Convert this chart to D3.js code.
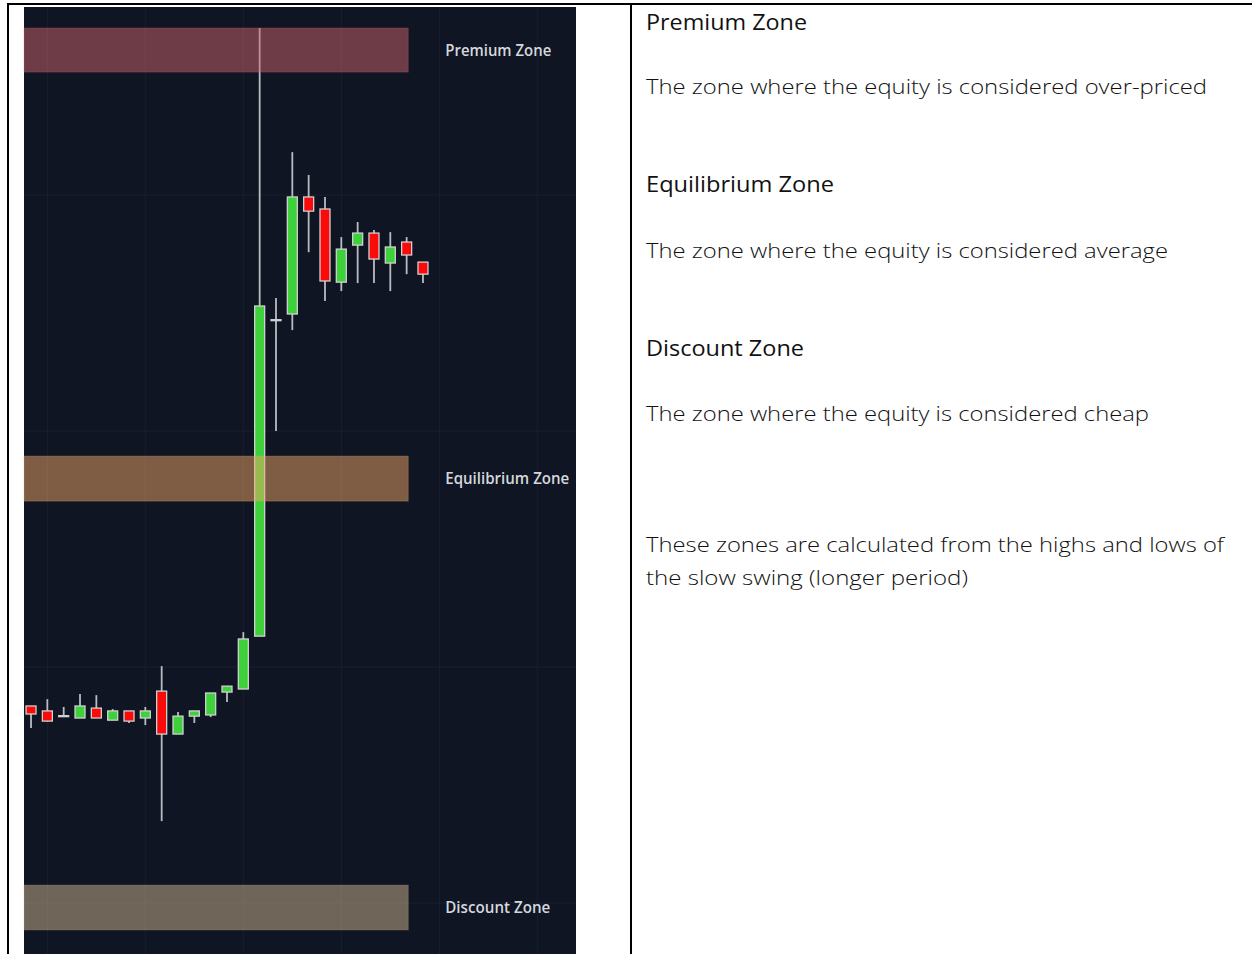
<!DOCTYPE html>
<html>
<head>
<meta charset="utf-8">
<script src="https://cdn.jsdelivr.net/npm/d3@7"></script>
<style>
    body { margin: 0; background: #ffffff; }
    svg { display: block; }
</style>
</head>
<body>
<svg id="page" width="1252" height="954"></svg>
<script>

// candle data (bar index = position in arrays)
let opens  = [108.35, 108.14, 107.94, 107.84, 108.26, 107.75, 108.14, 107.84, 108.98, 107.16, 107.92, 107.97, 108.94,
              109.07, 111.31, 124.72, 124.96, 129.92, 129.41, 126.31, 127.88, 128.39, 127.12, 128.01, 127.16];
let highs  = [108.35, 108.64, 108.31, 108.86, 108.81, 108.22, 108.14, 108.31, 110.04, 108.09, 108.14, 108.90, 109.19,
              111.48, 137.08, 125.64, 131.82, 130.85, 129.92, 128.22, 128.86, 128.52, 128.43, 128.22, 127.16];
let lows   = [107.42, 107.69, 107.88, 107.84, 107.84, 107.75, 107.63, 107.54, 103.47, 107.16, 107.63, 107.88, 108.52,
              109.07, 111.31, 120.00, 124.28, 127.58, 125.51, 125.93, 126.27, 126.27, 125.93, 126.65, 126.27];
let closes = [108.01, 107.71, 107.92, 108.35, 107.84, 108.14, 107.71, 108.14, 107.16, 107.92, 108.14, 108.90, 109.19,
              111.19, 125.30, 124.68, 129.92, 129.32, 126.36, 127.71, 128.39, 127.29, 127.80, 127.46, 126.65];

// zones
let zoneNames   = ["Premium Zone", "Equilibrium Zone", "Discount Zone"];
let zoneTops    = [137.08, 118.94, 100.76];
let zoneBottoms = [135.21, 117.03, 98.86];
let zoneColors  = ["rgb(205,99,106)", "rgb(239,165,102)", "rgb(207,181,142)"];
let zoneEndBar  = 23.1;

// grid
let gridPrices = [100, 110, 120, 130, 140];
let gridBars   = [1, 7, 13, 19, 25, 31];

// notes on the right
let noteHeads = ["Premium Zone", "Equilibrium Zone", "Discount Zone"];
let noteTexts = ["The zone where the equity is considered over-priced",
                 "The zone where the equity is considered average",
                 "The zone where the equity is considered cheap"];
let footLines = ["These zones are calculated from the highs and lows of",
                 "the slow swing (longer period)"];

// layout
let chart = { left: 24, top: 7, right: 576, bottom: 954 };
let page = d3.select("#page");

let x = d3.scaleLinear()
          .domain([-0.43, 33.37])
          .range([chart.left, chart.right]);
let y = d3.scaleLinear()
          .domain([97.84, 137.97])
          .range([chart.bottom, chart.top]);

let candleWidth = 10;

function drawFrame() {
    page.append("line")
        .attr("x1", 7).attr("x2", 1252)
        .attr("y1", 4).attr("y2", 4)
        .style("stroke", "#000").style("stroke-width", 2);
    page.append("line")
        .attr("x1", 8).attr("x2", 8)
        .attr("y1", 3).attr("y2", 954)
        .style("stroke", "#000").style("stroke-width", 2);
    page.append("line")
        .attr("x1", 631).attr("x2", 631)
        .attr("y1", 3).attr("y2", 954)
        .style("stroke", "#000").style("stroke-width", 2);
}

function drawChartBack() {
    let g = page.append("g").attr("id", "chartBack");
    g.append("rect")
     .attr("x", chart.left).attr("y", chart.top)
     .attr("width", chart.right - chart.left)
     .attr("height", chart.bottom - chart.top)
     .style("fill", "#0f1522");

    g.selectAll(".vgrid").data(gridBars).join("line")
     .attr("class", "vgrid")
     .attr("x1", d => x(d)).attr("x2", d => x(d))
     .attr("y1", chart.top).attr("y2", chart.bottom)
     .style("stroke", "#182031").style("stroke-width", 1);

    g.selectAll(".hgrid").data(gridPrices.filter(p => y(p) > chart.top)).join("line")
     .attr("class", "hgrid")
     .attr("x1", chart.left).attr("x2", chart.right)
     .attr("y1", d => y(d)).attr("y2", d => y(d))
     .style("stroke", "#182031").style("stroke-width", 1);
}

function drawCandles() {
    let bars = d3.range(opens.length);
    let g = page.append("g").attr("id", "candles");

    g.selectAll(".wick").data(bars).join("line")
     .attr("class", "wick")
     .attr("x1", i => x(i)).attr("x2", i => x(i))
     .attr("y1", i => y(highs[i])).attr("y2", i => y(lows[i]))
     .style("stroke", "#b9bcc2").style("stroke-width", 1.8);

    g.selectAll(".body").data(bars).join("rect")
     .attr("class", "body")
     .attr("x", i => x(i) - candleWidth / 2)
     .attr("width", candleWidth)
     .attr("y", i => y(Math.max(opens[i], closes[i])))
     .attr("height", i => Math.max(1, Math.abs(y(opens[i]) - y(closes[i]))))
     .style("fill", i => closes[i] >= opens[i] ? "#3fd13b" : "#fb0a0a")
     .style("stroke", "#cfd0d2").style("stroke-width", 1.3);
}

function drawZones() {
    let g = page.append("g").attr("id", "zones");

    g.selectAll(".zone").data(zoneNames).join("rect")
     .attr("class", "zone")
     .attr("x", chart.left)
     .attr("width", x(zoneEndBar) - chart.left)
     .attr("y", (d, i) => y(zoneTops[i]))
     .attr("height", (d, i) => y(zoneBottoms[i]) - y(zoneTops[i]))
     .style("fill", (d, i) => zoneColors[i])
     .style("fill-opacity", 0.5)
     .style("stroke", (d, i) => zoneColors[i])
     .style("stroke-opacity", 0.25);

    let labelWidths = [106, 124, 105];
    g.selectAll(".zoneLabel").data(zoneNames).join("text")
     .attr("class", "zoneLabel")
     .attr("x", x(zoneEndBar) + 37)
     .attr("y", (d, i) => (y(zoneTops[i]) + y(zoneBottoms[i])) / 2 + 5.5)
     .attr("textLength", (d, i) => labelWidths[i])
     .attr("lengthAdjust", "spacingAndGlyphs")
     .style("font-family", "'Open Sans', sans-serif")
     .style("font-weight", 600)
     .style("font-size", "16.5px")
     .style("fill", "#d5d8dd")
     .text(d => d);
}

function drawNotes() {
    let g = page.append("g").attr("id", "notes")
                .style("font-family", "'Open Sans', sans-serif")
                .style("fill", "#111");
    let left = 646;
    let headBase = [30, 192, 356];
    let textBase = [94, 258, 421];
    let headWidths = [161, 188, 158];
    let textWidths = [561, 522, 503];

    g.selectAll(".noteHead").data(noteHeads).join("text")
     .attr("class", "noteHead")
     .attr("x", left).attr("y", (d, i) => headBase[i])
     .attr("textLength", (d, i) => headWidths[i])
     .attr("lengthAdjust", "spacingAndGlyphs")
     .style("font-size", "21px").style("font-weight", 400)
     .text(d => d);

    g.selectAll(".noteText").data(noteTexts).join("text")
     .attr("class", "noteText")
     .attr("x", left).attr("y", (d, i) => textBase[i])
     .attr("textLength", (d, i) => textWidths[i])
     .attr("lengthAdjust", "spacingAndGlyphs")
     .style("font-size", "21px").style("font-weight", 300)
     .text(d => d);

    let footWidths = [578, 322];
    g.selectAll(".footText").data(footLines).join("text")
     .attr("class", "footText")
     .attr("x", left).attr("y", (d, i) => 552 + i * 33)
     .attr("textLength", (d, i) => footWidths[i])
     .attr("lengthAdjust", "spacingAndGlyphs")
     .style("font-size", "21px").style("font-weight", 300)
     .text(d => d);
}

drawChartBack();
drawCandles();
drawZones();
drawNotes();
drawFrame();

</script>
</body>
</html>
